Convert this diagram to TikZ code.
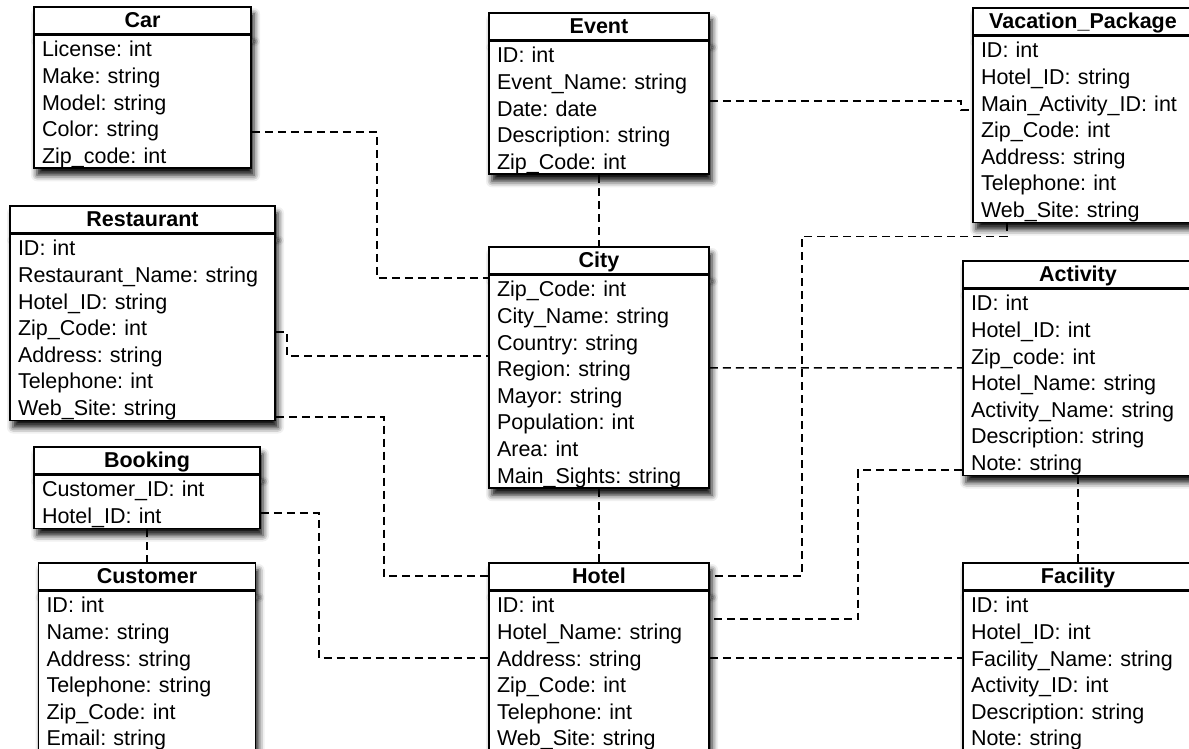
\documentclass[tikz,border=0pt]{standalone}
\usepackage{fontspec}
\setmainfont{Liberation Sans}
\usepackage{tikz}
\usetikzlibrary{shadows.blur}
\frenchspacing

\tikzset{
  entbox/.style={draw, line width=1.8pt, fill=white, inner sep=0pt,
    blur shadow={shadow xshift=3pt, shadow yshift=-7pt, shadow blur radius=6pt, shadow opacity=95}},
  etitle/.style={entbox, minimum width=#1, minimum height=26.5pt,
    font=\fontsize{21.5}{26.6}\selectfont\bfseries, text height=16pt, text depth=1pt},
  efields/.style={entbox, anchor=north, text width=#1, align=left, inner xsep=8pt,
    font=\fontsize{21.5}{26.6}\selectfont,
    execute at begin node=\rule{0pt}{21.6pt}, execute at end node=\rule[-5pt]{0pt}{5pt}},
  link/.style={line width=1.6pt, dash pattern=on 8pt off 5pt}
}

\begin{document}
\begin{tikzpicture}[x=1pt, y=-1pt]
\useasboundingbox (0,0) rectangle (1189,749);
\clip (0,0) rectangle (1189,749);

\node[etitle=217] (car) at (142.5,20.25) {Car};
\node[efields=201] (carf) at (car.south) {License: int\\Make: string\\Model: string\\Color: string\\Zip\_code: int};

\node[etitle=265] (rest) at (142.5,219.25) {Restaurant};
\node[efields=249] (restf) at (rest.south) {ID: int\\Restaurant\_Name: string\\Hotel\_ID: string\\Zip\_Code: int\\Address: string\\Telephone: int\\Web\_Site: string};

\node[etitle=226] (book) at (147,460.25) {Booking};
\node[efields=210] (bookf) at (book.south) {Customer\_ID: int\\Hotel\_ID: int};

\node[etitle=217] (cust) at (147,576.25) {Customer};
\node[efields=201] (custf) at (cust.south) {ID: int\\Name: string\\Address: string\\Telephone: string\\Zip\_Code: int\\Email: string};

\node[etitle=220] (event) at (599,26.25) {Event};
\node[efields=204] (eventf) at (event.south) {ID: int\\Event\_Name: string\\Date: date\\Description: string\\Zip\_Code: int};

\node[etitle=220] (city) at (599,260.25) {City};
\node[efields=204] (cityf) at (city.south) {Zip\_Code: int\\City\_Name: string\\Country: string\\Region: string\\Mayor: string\\Population: int\\Area: int\\Main\_Sights: string};

\node[etitle=220] (hotel) at (599,576.25) {Hotel};
\node[efields=204] (hotelf) at (hotel.south) {ID: int\\Hotel\_Name: string\\Address: string\\Zip\_Code: int\\Telephone: int\\Web\_Site: string};

\node[etitle=220] (vp) at (1083,21.25) {Vacation\_Package};
\node[efields=204] (vpf) at (vp.south) {ID: int\\Hotel\_ID: string\\Main\_Activity\_ID: int\\Zip\_Code: int\\Address: string\\Telephone: int\\Web\_Site: string};

\node[etitle=230] (act) at (1078,274.25) {Activity};
\node[efields=214] (actf) at (act.south) {ID: int\\Hotel\_ID: int\\Zip\_code: int\\Hotel\_Name: string\\Activity\_Name: string\\Description: string\\Note: string};

\node[etitle=230] (fac) at (1078,576.25) {Facility};
\node[efields=214] (facf) at (fac.south) {ID: int\\Hotel\_ID: int\\Facility\_Name: string\\Activity\_ID: int\\Description: string\\Note: string};

\draw[link] ([yshift=-30pt]carf.east) -- ++(125,0) |- ([yshift=-3.5pt]cityf.north west);
\draw[link] ([yshift=-4.4pt]restf.east) -- ++(11,0) |- ([yshift=26pt]cityf.west);
\draw[link] ([yshift=4.7pt]restf.south east) -- ++(108,0) |- (hotel.west);
\draw[link] ([yshift=-11pt]bookf.east) -- ++(58,0) |- ([yshift=13pt]hotelf.west);
\draw[link] (bookf.south) -- (cust.north);
\draw[link] (eventf.south) -- (city.north);
\draw[link] (cityf.south) -- (hotel.north);
\draw[link] ([yshift=7pt]eventf.east) -| ([xshift=-11pt,yshift=19.6pt]vpf.west) -- ([yshift=19.6pt]vpf.west);
\draw[link] ([yshift=13.9pt]cityf.east) -- ([yshift=14.6pt]actf.west);
\draw[link] ([xshift=-76pt]vpf.south) -- ++(0,13) -| ([xshift=92pt]hotel.east) -- (hotel.east);
\draw[link] ([yshift=6.7pt]actf.south west) -| ([xshift=148pt,yshift=52pt]hotelf.east) -- ([yshift=52pt]hotelf.east);
\draw[link] ([yshift=13pt]hotelf.east) -- ([yshift=13pt]facf.west);
\draw[link] (actf.south) -- (fac.north);
\end{tikzpicture}
\end{document}
